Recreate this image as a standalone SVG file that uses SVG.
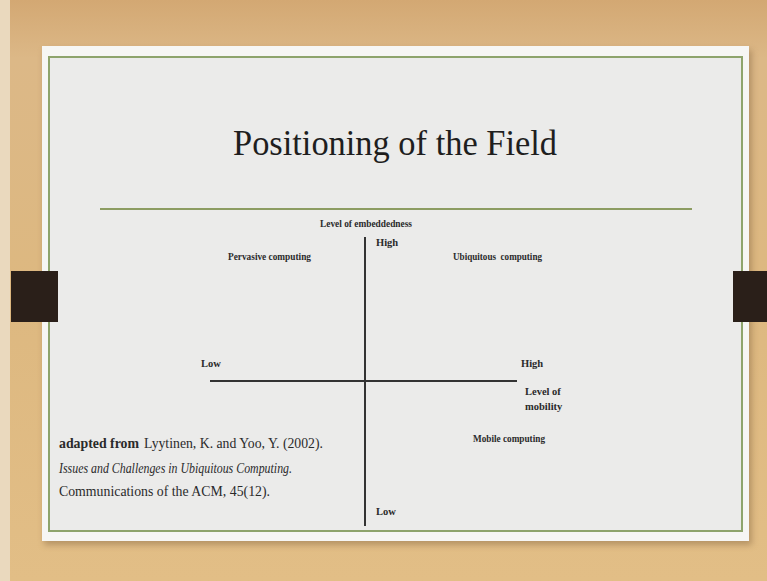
<svg xmlns="http://www.w3.org/2000/svg" width="767" height="581" viewBox="0 0 767 581">
<defs>
<linearGradient id="wood" x1="0" y1="0" x2="0" y2="1">
<stop offset="0" stop-color="#d3a873"/>
<stop offset="0.1" stop-color="#dcb887"/>
<stop offset="0.5" stop-color="#ddb880"/>
<stop offset="1" stop-color="#e2be86"/>
</linearGradient>
<filter id="shadow" x="-5%" y="-5%" width="110%" height="115%">
<feGaussianBlur stdDeviation="3"/>
</filter>
<style>
.lbl{font-family:"Liberation Serif",serif;font-weight:bold;font-size:10.5px;fill:#2a2a2a}
.ref{font-family:"Liberation Serif",serif;font-size:15.5px;fill:#2a2a2a}
.axis{stroke:#333;stroke-width:2;fill:none}
.tab{fill:#2a1f19}
</style>
</defs>
<rect x="0" y="0" width="767" height="581" fill="url(#wood)"/>
<rect x="0" y="0" width="10" height="581" fill="#ead9be"/>
<rect x="44" y="50" width="708" height="495" fill="#8a6a45" opacity="0.5" filter="url(#shadow)"/>
<rect x="42" y="46" width="707" height="495" fill="#f6f6f4"/>
<rect x="49" y="57" width="693" height="474" fill="#ebebea" stroke="#8ea46c" stroke-width="2"/>
<rect class="tab" x="11" y="271" width="47" height="51"/>
<rect class="tab" x="733" y="271" width="34" height="51"/>
<g id="title">
<text x="395" y="155" text-anchor="middle" font-family="Liberation Serif, serif" font-size="35" fill="#1e1e1e" textLength="324" lengthAdjust="spacingAndGlyphs">Positioning of the Field</text>
<line x1="100" y1="209" x2="692" y2="209" stroke="#8c9c62" stroke-width="2"/>
</g>
<g id="connectors">
<line class="axis" x1="365" y1="237" x2="365" y2="526"/>
<line class="axis" x1="210" y1="381" x2="517" y2="381"/>
</g>
<g id="y-axis-label"><text class="lbl" x="366" y="227" text-anchor="middle" textLength="92" lengthAdjust="spacingAndGlyphs">Level of embeddedness</text></g>
<g id="y-high"><text class="lbl" x="376" y="246">High</text></g>
<g id="y-low"><text class="lbl" x="376" y="515">Low</text></g>
<g id="x-low"><text class="lbl" x="201" y="367">Low</text></g>
<g id="x-high"><text class="lbl" x="521" y="367">High</text></g>
<g id="x-axis-label"><text class="lbl" x="525" y="395">Level of</text><text class="lbl" x="525" y="410">mobility</text></g>
<g id="pervasive"><text class="lbl" x="228" y="260" textLength="83" lengthAdjust="spacingAndGlyphs">Pervasive computing</text></g>
<g id="ubiquitous"><text class="lbl" x="453" y="260" textLength="89" lengthAdjust="spacingAndGlyphs" xml:space="preserve">Ubiquitous  computing</text></g>
<g id="mobile"><text class="lbl" x="473" y="442" textLength="72" lengthAdjust="spacingAndGlyphs">Mobile computing</text></g>
<g id="reference">
<text class="ref" x="59" y="448" font-weight="bold" textLength="80" lengthAdjust="spacingAndGlyphs">adapted from</text>
<text class="ref" x="144" y="448" textLength="179" lengthAdjust="spacingAndGlyphs">Lyytinen, K. and Yoo, Y. (2002).</text>
<text class="ref" x="59" y="473" font-style="italic" textLength="233" lengthAdjust="spacingAndGlyphs">Issues and Challenges in Ubiquitous Computing.</text>
<text class="ref" x="59" y="496" textLength="211" lengthAdjust="spacingAndGlyphs">Communications of the ACM, 45(12).</text>
</g>
</svg>
